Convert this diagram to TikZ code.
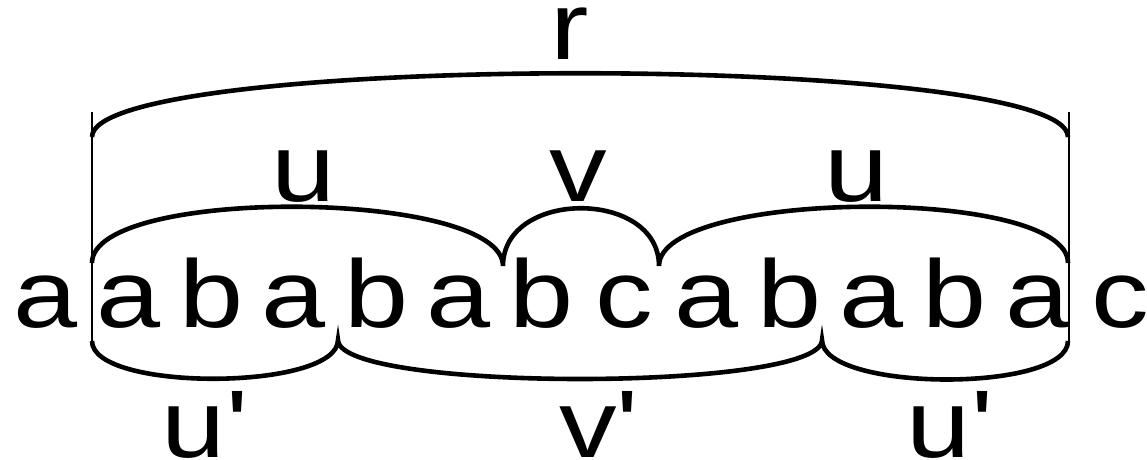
\documentclass[tikz,border=0pt]{standalone}
\usepackage{fontspec}
\newfontfamily\wordfont{Liberation Sans}
\newcommand\wide[1]{\scalebox{1.2}[1]{#1}}
\tikzset{
  letter/.style = {anchor=base, inner sep=0pt, text depth=0pt, font={\wordfont\fontsize{48pt}{52pt}\selectfont}},
  brace/.style = {line width=2.3pt},
  bar/.style = {line width=1.1pt},
  hump/.style = {to path={.. controls +(0,#1) and +(0,#1) .. (\tikztotarget)}}
}
\begin{document}
\begin{tikzpicture}[x=0.5pt,y=-0.5pt]
  \useasboundingbox (0,0) rectangle (1147,460);

  \foreach \ch [count=\i] in {a,a,b,a,b,a,b,c,a,b,a,b,a,c}{
    \node[letter] (l\i) at ({46+82.6*(\i-1)},328) {\wide{\ch}};
  }

  % bars round the word r
  \coordinate (barLt) at (92,112);
  \coordinate (barLb) at (92,342);
  \coordinate (barRt) at (1069,112);
  \coordinate (barRb) at (1069,342);
  \draw[bar] (barLt) -- (barLb);
  \draw[bar] (barRt) -- (barRb);

  % end points of the braces
  \coordinate (rL) at (92,137);
  \coordinate (rR) at (1068,137);
  \coordinate (uL) at (92,263);
  \coordinate (uv) at (503,266);
  \coordinate (vu) at (659,266);
  \coordinate (uR) at (1068,263);
  \coordinate (dL) at (92,341);
  \coordinate (dA) at (338,340);
  \coordinate (dB) at (822,340);
  \coordinate (dR) at (1068,341);

  \draw[brace] (rL) to[hump=-85] (rR);
  \draw[brace] (uL) to[hump=-77] (uv) to[hump=-77] (vu) to[hump=-77] (uR);
  \draw[brace] (dL) to[hump=51] (dA) to[hump=52] (dB) to[hump=52] (dR);

  \node[letter] (r) at (570,60) {\wide{r}};
  \node[letter] (u1) at (304,202) {\wide{u}};
  \node[letter] (v) at (578,201) {\wide{v}};
  \node[letter] (u2) at (857,202) {\wide{u}};
  \node[letter] (u1p) at (205,457) {\wide{u'}};
  \node[letter] (vp) at (599,457) {\wide{v'}};
  \node[letter] (u2p) at (950,457) {\wide{u'}};
\end{tikzpicture}
\end{document}
